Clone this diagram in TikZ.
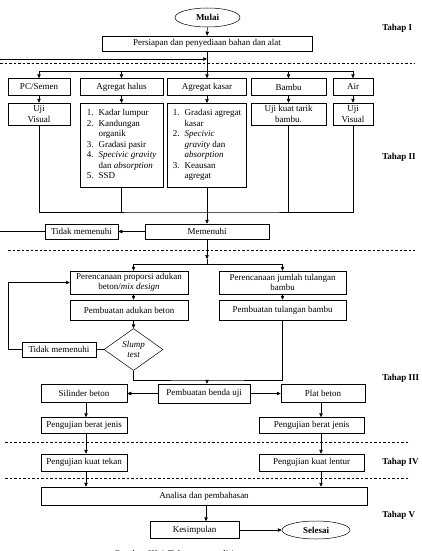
\documentclass[tikz,border=0pt]{standalone}
\usepackage{fontspec}
\setmainfont{Liberation Serif}
\usetikzlibrary{shapes.geometric,arrows.meta}

\begin{document}
\begin{tikzpicture}[x=1pt,y=-1pt,line width=0.5pt,
  font=\fontsize{9}{10.5}\selectfont,
  >={Triangle[length=4pt,width=3.5pt]},
  box/.style={draw,inner sep=0.5pt,align=center},
  wh/.style 2 args={minimum width=#1pt,minimum height=#2pt},
  terminal/.style={draw,ellipse,inner sep=0pt,font=\fontsize{9}{10.5}\selectfont\bfseries},
  tahap/.style={anchor=west,inner sep=0pt,font=\fontsize{9}{10.5}\selectfont\bfseries},
  pemisah/.style={dash pattern=on 2.5pt off 2pt}]
\useasboundingbox (0,0) rectangle (421,551);

\node[terminal,wh={65}{19}] (mulai) at (207.5,17.5) {Mulai};
\node[box,wh={210}{15}] (persiapan) at (207,43.5) {Persiapan dan penyediaan bahan dan alat};
\node[tahap] (t1) at (382,28) {Tahap I};
\draw[->] (mulai) -- (persiapan);

\draw[pemisah] (0,63.5) -- (415,63.5);

\node[box,wh={62}{17}] (pc) at (39,87) {PC/Semen};
\node[box,wh={83}{17}] (halus) at (121.5,87) {Agregat halus};
\node[box,wh={79}{17}] (kasar) at (207,87) {Agregat kasar};
\node[box,wh={75}{17}] (bambu) at (288.5,87) {Bambu};
\node[box,wh={40}{17}] (air) at (353,87) {Air};

\node[box,wh={62}{22}] (ujipc) at (39,114) {Uji\\Visual};
\node[box,wh={83}{84},anchor=north] (ujihalus) at (121.5,103) {%
  \begin{tabular}{@{}l@{\hspace{5pt}}l@{}}
  1. & Kadar lumpur\\
  2. & Kandungan\\
     & organik\\
  3. & Gradasi pasir\\
  4. & \textit{Specivic gravity}\\
     & dan \textit{absorption}\\
  5. & SSD
  \end{tabular}};
\node[box,wh={79}{84},anchor=north] (ujikasar) at (207,103) {%
  \begin{tabular}{@{}l@{\hspace{5pt}}l@{}}
  1. & Gradasi agregat\\
     & kasar\\
  2. & \textit{Specivic}\\
     & \textit{gravity} dan\\
     & \textit{absorption}\\
  3. & Keausan\\
     & agregat
  \end{tabular}};
\node[box,wh={75}{22}] (ujibambu) at (288.5,114) {Uji kuat tarik\\bambu.};
\node[box,wh={40}{22}] (ujiair) at (353,114) {Uji\\Visual};
\node[tahap] (t2) at (382,157) {Tahap II};

\coordinate (balik) at (207,59);
\coordinate (bagi1) at (207,71);
\draw (persiapan) -- (bagi1);
\foreach \n in {pc,halus,kasar,bambu,air}
  \draw[->] (bagi1) -| (\n);
\foreach \a/\b in {pc/ujipc,halus/ujihalus,kasar/ujikasar,bambu/ujibambu,air/ujiair}
  \draw[->] (\a) -- (\b);

\coordinate (kumpul) at (207,212);
\draw (ujipc) |- (kumpul) -| (ujiair);
\draw (ujihalus) -- (ujihalus |- kumpul);
\draw (ujibambu) -- (ujibambu |- kumpul);

\node[box,wh={124}{15}] (memenuhi) at (207,231.5) {Memenuhi};
\node[box,wh={73}{15}] (tidak1) at (81.5,231.5) {Tidak memenuhi};
\draw[->] (ujikasar) -- (memenuhi);
\draw[->] (memenuhi) -- (tidak1);
\coordinate (kiri) at (-5,0);
\draw[->] (tidak1) -- (tidak1 -| kiri) |- (balik);

\draw[pemisah] (8,250) -- (415,250);

\coordinate (panah2) at (207,259);
\coordinate (bagi2) at (207,264);
\coordinate (kolkiri) at (133.5,0);
\draw[->] (memenuhi) -- (panah2);
\draw (panah2) -- (bagi2);
\node[box,wh={118}{23}] (proporsi) at (129,282.5) {Perencanaan proporsi adukan\\beton/\textit{mix design}};
\node[box,wh={127}{23}] (jumlah) at (282.5,282.5) {Perencanaan jumlah tulangan\\bambu};
\draw[->] (bagi2) -| (proporsi.north -| kolkiri);
\draw[->] (bagi2) -| (jumlah);
\node[box,wh={118}{20}] (adukan) at (129,310) {Pembuatan adukan beton};
\node[box,wh={127}{20}] (tulangan) at (282.5,310) {Pembuatan tulangan bambu};
\draw[->] (proporsi.south -| kolkiri) -- (adukan.north -| kolkiri);
\draw[->] (jumlah) -- (tulangan);

\node[draw,diamond,aspect=1.4,wh={59}{42},inner sep=0pt,align=center,
  font=\fontsize{9}{10.5}\selectfont\itshape] (slump) at (133.5,349.5) {Slump\\test};
\draw[->] (adukan.south -| kolkiri) -- (slump);
\node[box,wh={74}{15}] (tidak2) at (59,349.5) {Tidak memenuhi};
\draw (slump) -- (tidak2);
\coordinate (putar) at (8,282.5);
\draw[->] (tidak2) -| (putar) -- (proporsi);
\node[tahap] (t3) at (382,378) {Tahap III};

\coordinate (gabung) at (207,380);
\draw (slump) |- (gabung) -| (tulangan);
\node[box,wh={92}{19}] (benda) at (204,393.5) {Pembuatan benda uji};
\draw[->] (gabung) -- (gabung |- benda.north);
\node[box,wh={86}{18}] (silinder) at (84,393.5) {Silinder beton};
\node[box,wh={84}{18}] (plat) at (323,393.5) {Plat beton};
\draw[->] (benda) -- (silinder);
\draw[->] (benda) -- (plat);

\coordinate (kolkiri2) at (86,0);
\coordinate (kolkanan) at (321,0);
\node[box,wh={86}{16}] (berat1) at (84,425.5) {Pengujian berat jenis};
\node[box,wh={105}{16}] (berat2) at (311.5,425.5) {Pengujian berat jenis};
\draw[->] (silinder.south -| kolkiri2) -- (berat1.north -| kolkiri2);
\draw[->] (plat.south -| kolkanan) -- (berat2.north -| kolkanan);

\draw[pemisah] (5,442.5) -- (410,442.5);

\node[box,wh={86}{17}] (tekan) at (84,462.5) {Pengujian kuat tekan};
\node[box,wh={105}{17}] (lentur) at (311.5,462.5) {Pengujian kuat lentur};
\draw[->] (berat1.south -| kolkiri2) -- (tekan.north -| kolkiri2);
\draw[->] (berat2.south -| kolkanan) -- (lentur.north -| kolkanan);
\node[tahap] (t4) at (382,462) {Tahap IV};

\draw[pemisah] (5,478.5) -- (410,478.5);

\node[box,wh={326}{18}] (analisa) at (204,496) {Analisa dan pembahasan};
\draw[->] (tekan.south -| kolkiri2) -- (analisa.north -| kolkiri2);
\draw[->] (lentur.south -| kolkanan) -- (analisa.north -| kolkanan);
\node[tahap] (t5) at (382,515) {Tahap V};

\coordinate (koltengah) at (206,0);
\node[box,wh={89}{17}] (kesimpulan) at (194.5,530) {Kesimpulan};
\node[terminal,wh={68}{18}] (selesai) at (316,530) {Selesai};
\draw[->] (analisa.south -| koltengah) -- (kesimpulan.north -| koltengah);
\draw[->] (kesimpulan) -- (selesai);

\node[anchor=base west,inner sep=0pt,font=\fontsize{10}{12}\selectfont] (judul) at (113,557) {Gambar III.1 Tahapan penelitian};
\end{tikzpicture}
\end{document}
